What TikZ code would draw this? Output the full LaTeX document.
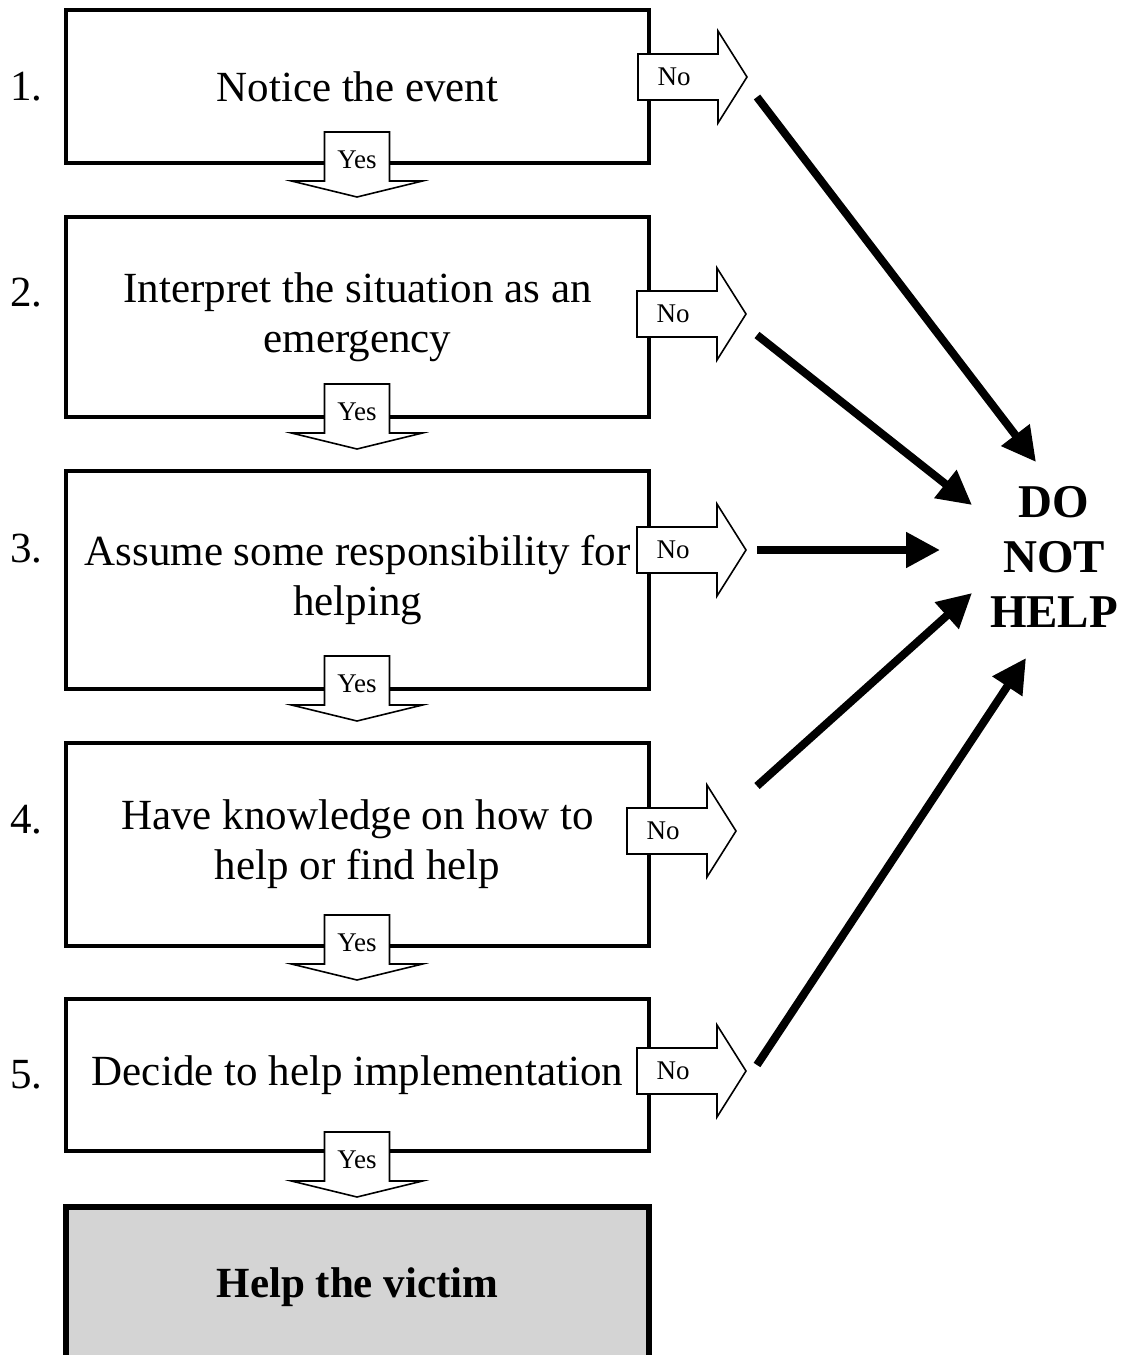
\documentclass[tikz,border=0pt]{standalone}
\usepackage{fontspec}
\setmainfont{Liberation Serif}
\usetikzlibrary{arrows.meta}
\definecolor{victimgray}{HTML}{D4D4D4}
\newcommand\yesarrow[3]{%
  \begin{scope}[shift={(#2,#3)}]
    \draw[outlinearrow] (-32.5,0) -- (32.5,0) -- (32.5,49) -- (65.5,49) -- (0,65) -- (-65.5,49) -- (-32.5,49) -- cycle;
    \node[smalllab] (#1) at (0,28) {Yes};
  \end{scope}}
\newcommand\noarrow[3]{%
  \begin{scope}[shift={(#2,#3)}]
    \draw[outlinearrow] (0,-23) -- (80,-23) -- (80,-46) -- (109,0) -- (80,46) -- (80,23) -- (0,23) -- cycle;
    \node[smalllab] (#1) at (36,0) {No};
  \end{scope}}
\begin{document}
\begin{tikzpicture}[x=0.5pt,y=-0.5pt,
  stepbox/.style={draw, line width=2pt, minimum width=291.5pt, inner sep=0pt, align=center,
                  font=\fontsize{21.5}{25}\selectfont},
  num/.style={anchor=east, inner sep=0pt, font=\fontsize{21.5}{25}\selectfont},
  smalllab/.style={inner sep=0pt, font=\fontsize{13.5}{15}\selectfont},
  outlinearrow/.style={draw, fill=white, line width=0.8pt, line join=miter},
  bigarrow/.style={line width=4pt, -{Triangle[length=17pt,width=17pt]}},
]
\useasboundingbox (0,0) rectangle (1123,1355);
\clip (0,0) rectangle (1123,1355);

% boxes
\node[stepbox, minimum height=76.5pt] (b1) at (357.5,86.5) {Notice the event};
\node[stepbox, minimum height=100pt] (b2) at (357.5,317) {Interpret the situation as an\\emergency};
\node[stepbox, minimum height=109pt] (b3) at (357.5,580) {\raisebox{3pt}{\begin{tabular}{@{}c@{}}Assume some responsibility for\\helping\end{tabular}}};
\node[stepbox, minimum height=101.5pt] (b4) at (357.5,844.5) {Have knowledge on how to\\help or find help};
\node[stepbox, minimum height=76pt] (b5) at (357.5,1075) {Decide to help implementation};
\node[draw, line width=3pt, fill=victimgray, minimum width=291.5pt, minimum height=80pt, inner sep=0pt,
      font=\bfseries\fontsize{21.5}{25}\selectfont] (victim) at (357.5,1287) {\raisebox{3.5pt}{Help the victim}};

% step numbers
\node[num] (n1) at (43,87) {1.};
\node[num] (n2) at (43,293) {2.};
\node[num] (n3) at (43,549) {3.};
\node[num] (n4) at (43,820) {4.};
\node[num] (n5) at (43,1075) {5.};

% yes arrows
\yesarrow{y1}{357}{132}
\yesarrow{y2}{357}{384}
\yesarrow{y3}{357}{656}
\yesarrow{y4}{357}{915}
\yesarrow{y5}{357}{1132}

% no arrows
\noarrow{no1}{638}{77}
\noarrow{no2}{637}{314}
\noarrow{no3}{637}{550}
\noarrow{no4}{627}{831}
\noarrow{no5}{637}{1071}

% do not help
\node[align=center, inner sep=0pt, font=\bfseries\fontsize{23.5}{27.5}\selectfont] (dnh) at (1054,557) {DO\\NOT\\HELP};

\coordinate (s1) at (757,97);   \coordinate (t1) at (1036,462);
\coordinate (s2) at (757,335);  \coordinate (t2) at (972,505);
\coordinate (s3) at (757,550);  \coordinate (t3) at (940,550);
\coordinate (s4) at (757,786);  \coordinate (t4) at (972,593);
\coordinate (s5) at (757,1065); \coordinate (t5) at (1026,658);
\foreach \i in {1,...,5} {\draw[bigarrow] (s\i) -- (t\i);}
\end{tikzpicture}
\end{document}
